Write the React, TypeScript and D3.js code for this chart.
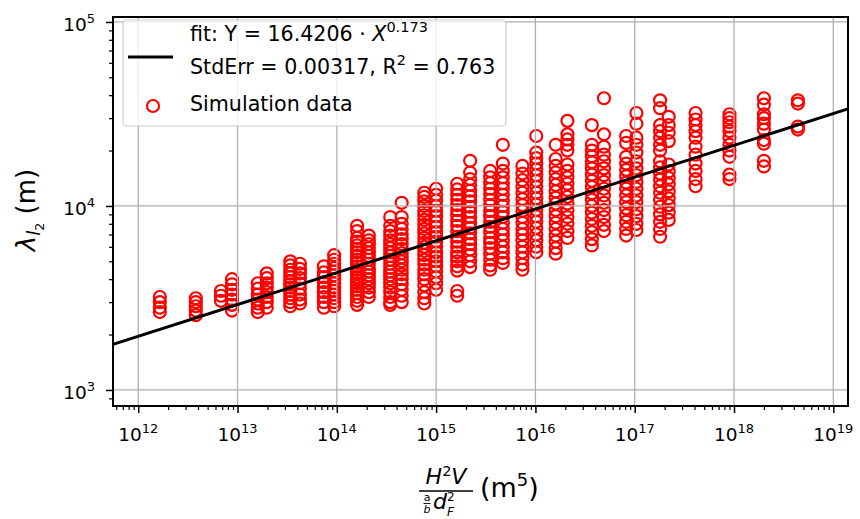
import React, { useEffect, useRef } from "react";
import * as d3 from "d3";

// x value of every column of simulation runs (m^5)
const colX = [
  1.65e12, 3.8e12, 6.8e12, 8.8e12, 1.6e13, 1.97e13, 3.4e13, 4.25e13, 7.4e13,
  9.4e13, 1.6e14, 2.1e14, 3.45e14, 4.5e14, 7.6e14, 1.0e15, 1.63e15, 2.2e15,
  3.5e15, 4.7e15, 7.4e15, 1.02e16, 1.6e16, 2.1e16, 3.7e16, 4.9e16, 8.2e16,
  1.04e17, 1.8e17, 2.2e17, 4.1e17, 9e17, 2.0e18, 4.4e18
];

// lambda values (m) read for each column
const colY = [
  [3200, 3000, 2800, 2650],
  [3150, 3000, 2850, 2700, 2550],
  [3450, 3250, 3050],
  [4000, 3750, 3500, 3300, 3100, 2900, 2700],
  [3800, 3550, 3300, 3100, 2950, 2800, 2650],
  [4300, 4050, 3800, 3600, 3400, 3200, 3000, 2800],
  [5000, 4750, 4500, 4300, 4100, 3900, 3750, 3600, 3450, 3300, 3150, 3000, 2850],
  [4850, 4550, 4300, 4050, 3800, 3550, 3300, 3100, 2950],
  [4700, 4350, 4100, 3850, 3600, 3400, 3200, 3000, 2800],
  [5400, 5100, 4850, 4600, 4400, 4200, 4000, 3800, 3600, 3450, 3300, 3150, 3000, 2850],
  [7800, 7300, 6700, 6400, 6100, 5850, 5600, 5350, 5100, 4900, 4700, 4500, 4300, 4100, 3950, 3800, 3650, 3500, 3350, 3200, 3050, 2900],
  [6900, 6500, 6200, 5900, 5600, 5350, 5100, 4850, 4600, 4400, 4200, 4000, 3800, 3600, 3400, 3200],
  [8700, 7800, 7300, 6900, 6500, 6200, 5900, 5600, 5350, 5100, 4850, 4600, 4400, 4200, 4000, 3800, 3600, 3400, 3200, 3000, 2900],
  [10400, 8700, 8000, 7500, 7000, 6600, 6200, 5850, 5550, 5250, 5000, 4750, 4500, 4250, 4000, 3750, 3500, 3250, 3000],
  [11800, 11200, 10600, 10000, 9400, 8900, 8400, 7900, 7500, 7100, 6700, 6300, 6000, 5700, 5400, 5100, 4800, 4500, 4250, 4000, 3700, 3400, 3150, 2950],
  [12400, 11500, 10700, 10000, 9400, 8800, 8200, 7700, 7200, 6800, 6400, 6000, 5600, 5300, 5000, 4700, 4400, 4100, 3800, 3500],
  [13200, 12300, 11500, 10800, 10100, 9500, 8900, 8300, 7800, 7300, 6800, 6400, 6000, 5600, 5300, 5000, 4700, 4450, 3450, 3250],
  [17600, 15200, 14000, 13000, 12100, 11300, 10600, 9900, 9300, 8700, 8100, 7600, 7100, 6600, 6200, 5800, 5400, 5000, 4650],
  [15500, 14300, 13300, 12400, 11600, 10800, 10100, 9400, 8800, 8200, 7700, 7200, 6700, 6300, 5900, 5500, 5100, 4750, 4500],
  [21500, 17000, 15500, 14300, 13300, 12400, 11500, 10700, 10000, 9300, 8700, 8100, 7500, 7000, 6500, 6000, 5600, 5200, 4900],
  [16500, 15000, 13800, 12700, 11800, 10900, 10100, 9400, 8700, 8100, 7500, 7000, 6500, 6000, 5600, 5200, 4800, 4500],
  [24000, 19500, 18200, 17000, 15800, 14700, 13700, 12700, 11800, 11000, 10200, 9500, 8800, 8200, 7600, 7000, 6500, 6000, 5600],
  [21500, 18000, 16500, 15200, 14000, 13000, 12000, 11100, 10300, 9500, 8800, 8100, 7500, 6900, 6400, 5900, 5500],
  [29000, 24500, 23000, 21500, 20000, 16800, 15500, 14300, 13200, 12200, 11200, 10300, 9500, 8700, 8000, 7300, 6700],
  [27500, 21500, 20000, 18600, 17300, 16000, 14800, 13700, 12700, 11700, 10800, 10000, 9200, 8500, 7800, 7200, 6600, 6100],
  [38500, 24500, 21000, 19000, 17500, 16000, 14700, 13500, 12400, 11400, 10400, 9500, 8700, 7900, 7300],
  [24000, 22000, 18500, 17000, 15700, 14500, 13400, 12400, 11400, 10500, 9700, 8900, 8200, 7500, 6900],
  [32000, 28000, 23500, 21500, 19500, 17500, 16000, 14700, 13500, 12400, 11400, 10500, 9600, 8800, 8000, 7400],
  [37500, 34000, 27500, 25500, 23500, 21500, 20000, 17500, 16200, 15000, 13900, 12800, 11800, 10800, 9900, 9000, 8200, 7500, 6800],
  [30500, 27500, 25000, 22500, 16800, 15400, 14200, 13100, 12000, 11000, 10100, 9200, 8400],
  [32000, 29500, 27500, 25500, 23500, 21000, 19000, 17000, 15500, 14000, 12800],
  [31500, 30000, 28500, 27000, 25500, 23500, 21500, 20000, 18500, 14800, 14000],
  [38500, 35500, 31500, 30000, 28000, 26000, 22800, 21800, 17600, 16400],
  [37500, 36000, 27000, 26000]
];

const fitA = 16.4206;
const fitB = 0.173;

const xMajor = [1e12, 1e13, 1e14, 1e15, 1e16, 1e17, 1e18, 1e19];
const xExp = ["12", "13", "14", "15", "16", "17", "18", "19"];
const yMajor = [1e3, 1e4, 1e5];
const yExp = ["3", "4", "5"];

const xDomain = [5.57e11, 1.406e19];
const yDomain = [818, 106400];

function minorTicks(domain: number[]) {
  const out: number[] = [];
  for (let k = -1; k < 25; k++) {
    for (let m = 2; m <= 9; m++) {
      const v = m * Math.pow(10, k);
      if (v >= domain[0] && v <= domain[1]) out.push(v);
    }
  }
  return out;
}

export default function App() {
  const ref = useRef<SVGSVGElement>(null);

  useEffect(() => {
    const svg = d3.select(ref.current);
    svg.selectAll("*").remove();
    const left = 113, right = 848, top = 17, bottom = 406;
    const font = "'DejaVu Sans', sans-serif";

    const x = d3.scaleLog().domain(xDomain).range([left, right]);
    const y = d3.scaleLog().domain(yDomain).range([bottom, top]);

    svg.append("rect").attr("width", 860).attr("height", 519).attr("fill", "#fff");

    // scatter
    const pts = colX.flatMap((xv, i) => colY[i].map(yv => [xv, yv]));
    svg
      .append("g")
      .selectAll("circle")
      .data(pts)
      .enter()
      .append("circle")
      .attr("cx", d => x(d[0]))
      .attr("cy", d => y(d[1]))
      .attr("r", 6)
      .attr("fill", "none")
      .attr("stroke", "#ff0000")
      .attr("stroke-width", 2.2);

    // grid (drawn above the markers, as matplotlib does)
    const grid = svg.append("g").attr("stroke", "#b0b0b0").attr("stroke-width", 1.3);
    xMajor.forEach(v => {
      grid.append("line").attr("x1", x(v)).attr("x2", x(v)).attr("y1", top).attr("y2", bottom);
    });
    yMajor.forEach(v => {
      grid.append("line").attr("x1", left).attr("x2", right).attr("y1", y(v)).attr("y2", y(v));
    });

    // power law fit
    const fitLine = d3
      .line<number>()
      .x(d => x(d))
      .y(d => y(fitA * Math.pow(d, fitB)));
    svg
      .append("path")
      .attr("d", fitLine(xDomain))
      .attr("fill", "none")
      .attr("stroke", "#000")
      .attr("stroke-width", 3);

    // axes ticks
    const styleAxis = (g: any, w: number) => {
      g.select(".domain").remove();
      g.selectAll(".tick line").attr("stroke", "#000").attr("stroke-width", w);
      g.selectAll(".tick text").remove();
    };
    svg
      .append("g")
      .attr("transform", `translate(0,${bottom})`)
      .call(d3.axisBottom(x).tickValues(xMajor).tickSize(7))
      .call((g: any) => styleAxis(g, 1.5));
    svg
      .append("g")
      .attr("transform", `translate(0,${bottom})`)
      .call(d3.axisBottom(x).tickValues(minorTicks(xDomain)).tickSize(4))
      .call((g: any) => styleAxis(g, 1.2));
    svg
      .append("g")
      .attr("transform", `translate(${left},0)`)
      .call(d3.axisLeft(y).tickValues(yMajor).tickSize(7))
      .call((g: any) => styleAxis(g, 1.5));
    svg
      .append("g")
      .attr("transform", `translate(${left},0)`)
      .call(d3.axisLeft(y).tickValues(minorTicks(yDomain)).tickSize(4))
      .call((g: any) => styleAxis(g, 1.2));

    // frame
    svg
      .append("rect")
      .attr("x", left)
      .attr("y", top)
      .attr("width", right - left)
      .attr("height", bottom - top)
      .attr("fill", "none")
      .attr("stroke", "#000")
      .attr("stroke-width", 2);

    // tick labels
    xMajor.forEach((v, i) => {
      const t = svg
        .append("text")
        .attr("x", x(v))
        .attr("y", 441)
        .attr("text-anchor", "middle")
        .attr("font-family", font)
        .attr("fill", "#000");
      t.append("tspan").attr("font-size", 18.5).text("10");
      t.append("tspan").attr("font-size", 13).attr("dy", -8).text(xExp[i]);
    });
    yMajor.forEach((v, i) => {
      const t = svg
        .append("text")
        .attr("x", 95)
        .attr("y", y(v) + 9)
        .attr("text-anchor", "end")
        .attr("font-family", font)
        .attr("fill", "#000");
      t.append("tspan").attr("font-size", 18.5).text("10");
      t.append("tspan").attr("font-size", 13).attr("dy", -8).text(yExp[i]);
    });

    // y label
    const yl = svg
      .append("text")
      .attr("transform", "translate(35,210) rotate(-90)")
      .attr("text-anchor", "middle")
      .attr("font-family", font)
      .attr("font-size", 26)
      .attr("fill", "#000");
    yl.append("tspan").attr("font-style", "italic").text("λ");
    yl.append("tspan").attr("font-style", "italic").attr("font-size", 18).attr("dy", 5).text("l");
    yl.append("tspan").attr("font-size", 12.5).attr("dy", 4).text("2");
    yl.append("tspan").attr("dy", -9).text(" (m)");

    // x label: fraction H^2 V / (a/b d_F^2) (m^5)
    const xl = svg.append("g").attr("font-family", font).attr("fill", "#000");
    const fx = 446;
    const num = xl
      .append("text")
      .attr("x", fx)
      .attr("y", 484)
      .attr("text-anchor", "middle")
      .attr("font-size", 22);
    num.append("tspan").attr("font-style", "italic").text("H");
    num.append("tspan").attr("font-size", 14.5).attr("dy", -8).text("2");
    num.append("tspan").attr("font-style", "italic").attr("dy", 8).text("V");
    xl.append("line")
      .attr("x1", fx - 27)
      .attr("x2", fx + 27)
      .attr("y1", 491)
      .attr("y2", 491)
      .attr("stroke", "#000")
      .attr("stroke-width", 1.3);
    xl.append("text").attr("x", fx - 19).attr("y", 501).attr("text-anchor", "middle").attr("font-size", 11).text("a");
    xl.append("line")
      .attr("x1", fx - 22.5)
      .attr("x2", fx - 15.5)
      .attr("y1", 503.5)
      .attr("y2", 503.5)
      .attr("stroke", "#000")
      .attr("stroke-width", 0.9);
    xl.append("text").attr("x", fx - 19).attr("y", 513).attr("text-anchor", "middle").attr("font-size", 11).attr("font-style", "italic").text("b");
    xl.append("text").attr("x", fx - 13).attr("y", 509).attr("font-size", 22).attr("font-style", "italic").text("d");
    xl.append("text").attr("x", fx + 1).attr("y", 515.5).attr("font-size", 12).attr("font-style", "italic").text("F");
    xl.append("text").attr("x", fx + 1).attr("y", 501).attr("font-size", 12).text("2");
    const unit = xl.append("text").attr("x", 480).attr("y", 497).attr("font-size", 27);
    unit.append("tspan").text("(m");
    unit.append("tspan").attr("font-size", 18).attr("dy", -11).text("5");
    unit.append("tspan").attr("dy", 11).text(")");

    // legend
    const lg = svg.append("g").attr("font-family", font).attr("font-size", 20.6).attr("fill", "#000");
    lg.append("rect")
      .attr("x", 123)
      .attr("y", 20)
      .attr("width", 383)
      .attr("height", 106)
      .attr("rx", 4)
      .attr("fill", "#fff")
      .attr("fill-opacity", 0.8)
      .attr("stroke", "#cccccc")
      .attr("stroke-width", 1.2);
    lg.append("line")
      .attr("x1", 128)
      .attr("x2", 173)
      .attr("y1", 57)
      .attr("y2", 57)
      .attr("stroke", "#000")
      .attr("stroke-width", 3);
    const l1 = lg.append("text").attr("x", 190).attr("y", 41);
    l1.append("tspan").text("fit: Y = 16.4206 · ");
    l1.append("tspan").attr("font-style", "italic").text("X");
    l1.append("tspan").attr("font-size", 14.5).attr("dy", -9).text("0.173");
    const l2 = lg.append("text").attr("x", 190).attr("y", 74);
    l2.append("tspan").text("StdErr = 0.00317, R");
    l2.append("tspan").attr("font-size", 14.5).attr("dy", -9).text("2");
    l2.append("tspan").attr("dy", 9).text(" = 0.763");
    lg.append("circle")
      .attr("cx", 153)
      .attr("cy", 106)
      .attr("r", 6)
      .attr("fill", "none")
      .attr("stroke", "#ff0000")
      .attr("stroke-width", 2.2);
    lg.append("text").attr("x", 190).attr("y", 111).text("Simulation data");
  }, []);

  return (
    <div style={{ position: "absolute", left: 0, top: 0 }}>
      <svg ref={ref} width={860} height={519} style={{ display: "block" }} />
    </div>
  );
}
